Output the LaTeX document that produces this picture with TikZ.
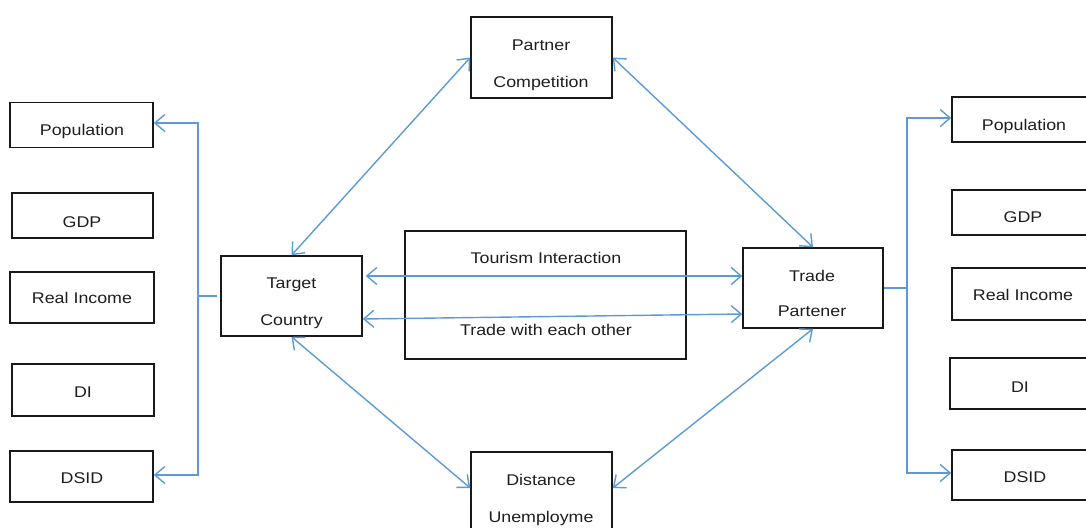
\documentclass[tikz,border=0pt]{standalone}
\usepackage{fontspec}
\setmainfont[FakeStretch=1.15]{Liberation Sans}
\usetikzlibrary{arrows.meta}
\definecolor{lnblue}{RGB}{91,155,213}
\definecolor{boxline}{RGB}{25,25,25}
\definecolor{txtcol}{RGB}{30,30,30}
\begin{document}
\begin{tikzpicture}[x=1pt,y=-1pt,
  box/.style 2 args={draw=boxline,line width=1.5pt,inner sep=0pt,minimum width=#1,minimum height=#2},
  txt/.style={inner sep=0pt,text height=11pt,text depth=0pt,text=txtcol,font=\fontsize{15.5}{18}\selectfont},
  link/.style={draw=lnblue,line width=1.4pt},
  >={Straight Barb[length=10pt,width=17pt]}]
\useasboundingbox (0,0) rectangle (1086,527);
\clip (0,0) rectangle (1086,527);

% left column
\node[box={143pt}{45pt}] (LPop) at (81.5,125) {};
\node[box={141pt}{45pt}] (LGDP) at (82.5,215.5) {};
\node[box={144pt}{51pt}] (LRI) at (82,297.5) {};
\node[box={142pt}{52pt}] (LDI) at (83,390) {};
\node[box={143pt}{51pt}] (LDSID) at (81.5,476.5) {};
\node[txt] (tLPop) at (82,130) {Population};
\node[txt] (tLGDP) at (82,222) {GDP};
\node[txt] (tLRI) at (82,298) {Real Income};
\node[txt] (tLDI) at (83,392) {DI};
\node[txt] (tLDSID) at (82,478) {DSID};

% right column
\node[box={142pt}{45pt}] (RPop) at (1023,119.5) {};
\node[box={142pt}{45pt}] (RGDP) at (1023,212.5) {};
\node[box={142pt}{52pt}] (RRI) at (1023,294) {};
\node[box={142pt}{51pt}] (RDI) at (1021,383.5) {};
\node[box={142pt}{50pt}] (RDSID) at (1023,475) {};
\node[txt] (tRPop) at (1024,125) {Population};
\node[txt] (tRGDP) at (1023,217) {GDP};
\node[txt] (tRRI) at (1023,295) {Real Income};
\node[txt] (tRDI) at (1020,387) {DI};
\node[txt] (tRDSID) at (1025,477) {DSID};

% central nodes
\node[box={141pt}{80pt}] (Target) at (291.5,296) {};
\node[txt] (tTarget1) at (291.5,283) {Target};
\node[txt] (tTarget2) at (291.5,320) {Country};

\node[box={140pt}{80pt}] (Trade) at (813,288) {};
\node[txt] (tTrade1) at (812,276) {Trade};
\node[txt] (tTrade2) at (812,311) {Partener};

\node[box={141pt}{81pt}] (Partner) at (541.5,57.5) {};
\node[txt] (tPartner1) at (541,45) {Partner};
\node[txt] (tPartner2) at (541,82) {Competition};

\node[box={141pt}{84pt}] (Distance) at (541.5,494) {};
\node[txt] (tDist1) at (541,480) {Distance};
\node[txt] (tDist2) at (541,517) {Unemployme};

\node[box={281pt}{128pt}] (Inter) at (545.5,295) {};
\node[txt] (tInter1) at (546,258) {Tourism Interaction};
\node[txt] (tInter2) at (546,330) {Trade with each other};

% brackets
\coordinate (lbT) at (198,123);
\coordinate (lbB) at (198,475);
\coordinate (lbM) at (198,296);
\draw[link,<->] (LPop.east |- lbT) -- (lbT) -- (lbB) -- (LDSID.east |- lbB);
\draw[link] (lbM) -- ([xshift=-3pt]Target.west);

\coordinate (rbT) at (907,118);
\coordinate (rbB) at (907,473);
\coordinate (rbM) at (907,288);
\draw[link,<->] (RPop.west |- rbT) -- (rbT) -- (rbB) -- (RDSID.west |- rbB);
\draw[link] (Trade.east) -- (rbM);

% diagonals
\draw[link,<->] (Target.north) -- (Partner.west);
\draw[link,<->] (Partner.east) -- (Trade.north);
\draw[link,<->] (Target.south) -- (Distance.west |- 0,488);
\draw[link,<->] (Trade.south) -- (Distance.east |- 0,488);

% horizontal links
\draw[link,<->] ([xshift=3pt]Target.east |- 0,276) -- (Trade.west |- 0,276);
\draw[link,<->] (Target.east |- 0,319) -- (Trade.west |- 0,314);
\end{tikzpicture}
\end{document}
